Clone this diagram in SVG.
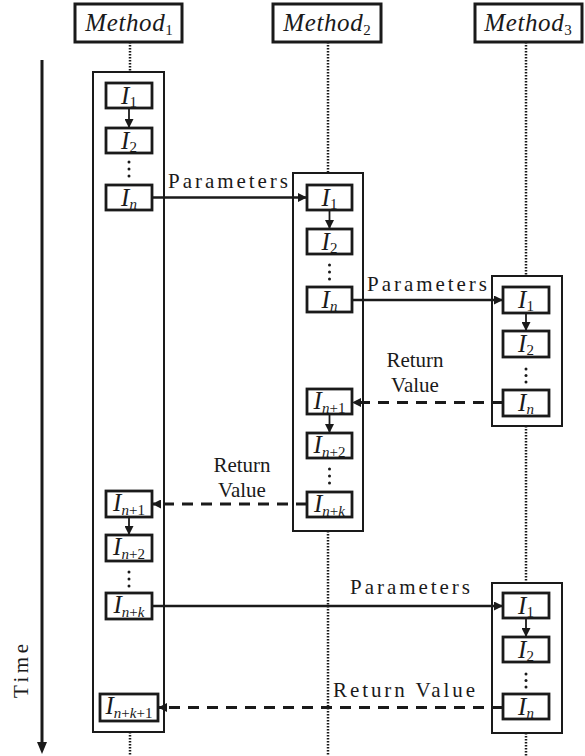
<svg xmlns="http://www.w3.org/2000/svg" width="585" height="756" viewBox="0 0 585 756">
<style>
.hdr{fill:#fff;stroke:#1a1a1a;stroke-width:3}
.act{fill:#fff;stroke:#1a1a1a;stroke-width:2}
.ib{fill:#fff;stroke:#1a1a1a;stroke-width:2.8}
.ht{font-family:"Liberation Serif","DejaVu Serif",serif;font-style:italic;font-size:25px;letter-spacing:0.6px;fill:#1a1a1a}
.it{font-family:"Liberation Serif","DejaVu Serif",serif;font-style:italic;font-size:25px;fill:#1a1a1a}
.sb{font-size:15px;font-style:normal;letter-spacing:0}
.si{font-style:italic}
.lbl{font-family:"Liberation Serif","DejaVu Serif",serif;font-size:21px;fill:#1a1a1a}
.life{stroke:#1a1a1a;stroke-width:2.5;stroke-dasharray:1.6 1.4;fill:none}
.msg{stroke:#1a1a1a;stroke-width:2.4;fill:none}
.ret{stroke:#1a1a1a;stroke-width:2.8;stroke-dasharray:11 8;fill:none}
.sm{stroke:#1a1a1a;stroke-width:1.8;fill:none}
.dot{fill:#1a1a1a}
</style>
<defs>
<marker id="ah" viewBox="0 0 10 10" refX="10" refY="5" markerWidth="11" markerHeight="9" markerUnits="userSpaceOnUse" orient="auto"><path d="M0,0 L10,5 L0,10 z" fill="#1a1a1a"/></marker>
<marker id="ahs" viewBox="0 0 10 10" refX="10" refY="5" markerWidth="9" markerHeight="9" markerUnits="userSpaceOnUse" orient="auto"><path d="M0,0 L10,5 L0,10 z" fill="#1a1a1a"/></marker>
</defs>

<!-- Headers -->
<g id="method1">
<rect class="hdr" x="75" y="4" width="107" height="38"/>
<text class="ht" x="129" y="31" text-anchor="middle">Method<tspan class="sb" dy="4">1</tspan></text>
</g>
<g id="method2">
<rect class="hdr" x="273" y="4" width="108" height="38"/>
<text class="ht" x="327" y="31" text-anchor="middle">Method<tspan class="sb" dy="4">2</tspan></text>
</g>
<g id="method3">
<rect class="hdr" x="475" y="4" width="107" height="38"/>
<text class="ht" x="528" y="31" text-anchor="middle">Method<tspan class="sb" dy="4">3</tspan></text>
</g>

<!-- Activation boxes -->
<g id="act1"><rect class="act" x="93" y="72" width="71" height="660"/></g>
<g id="act2"><rect class="act" x="293" y="173" width="70" height="358"/></g>
<g id="act3a"><rect class="act" x="492" y="276" width="70" height="150"/></g>
<g id="act3b"><rect class="act" x="492" y="583" width="70" height="150"/></g>

<!-- Method 1 instruction boxes -->
<g id="m1_i1"><rect class="ib" x="106" y="83" width="46" height="25"/><text class="it" x="129" y="104" text-anchor="middle">I<tspan class="sb" dy="3">1</tspan></text></g>
<g id="m1_i2"><rect class="ib" x="106" y="128" width="46" height="25"/><text class="it" x="129" y="149" text-anchor="middle">I<tspan class="sb" dy="3">2</tspan></text></g>
<g id="m1_dots1"><circle class="dot" cx="129" cy="162" r="1.5"/><circle class="dot" cx="129" cy="169" r="1.5"/><circle class="dot" cx="129" cy="176" r="1.5"/></g>
<g id="m1_in"><rect class="ib" x="106" y="185" width="46" height="25"/><text class="it" x="129" y="206" text-anchor="middle">I<tspan class="sb si" dy="3">n</tspan></text></g>
<g id="m1_in1"><rect class="ib" x="106" y="491" width="46" height="26"/><text class="it" x="129" y="511" text-anchor="middle">I<tspan class="sb" dy="4"><tspan class="si">n</tspan>+1</tspan></text></g>
<g id="m1_in2"><rect class="ib" x="106" y="535" width="46" height="26"/><text class="it" x="129" y="555" text-anchor="middle">I<tspan class="sb" dy="4"><tspan class="si">n</tspan>+2</tspan></text></g>
<g id="m1_dots2"><circle class="dot" cx="129" cy="572" r="1.5"/><circle class="dot" cx="129" cy="579" r="1.5"/><circle class="dot" cx="129" cy="586" r="1.5"/></g>
<g id="m1_ink"><rect class="ib" x="106" y="593" width="46" height="26"/><text class="it" x="129" y="613" text-anchor="middle">I<tspan class="sb" dy="4"><tspan class="si">n</tspan>+<tspan class="si">k</tspan></tspan></text></g>
<g id="m1_ink1"><rect class="ib" x="100" y="694" width="58" height="27"/><text class="it" x="129" y="714" text-anchor="middle">I<tspan class="sb" dy="4"><tspan class="si">n</tspan>+<tspan class="si">k</tspan>+1</tspan></text></g>

<!-- Method 2 instruction boxes -->
<g id="m2_i1"><rect class="ib" x="307" y="185" width="45" height="25"/><text class="it" x="329.5" y="206" text-anchor="middle">I<tspan class="sb" dy="3">1</tspan></text></g>
<g id="m2_i2"><rect class="ib" x="307" y="229" width="45" height="25"/><text class="it" x="329.5" y="250" text-anchor="middle">I<tspan class="sb" dy="3">2</tspan></text></g>
<g id="m2_dots1"><circle class="dot" cx="329.5" cy="265" r="1.5"/><circle class="dot" cx="329.5" cy="272" r="1.5"/><circle class="dot" cx="329.5" cy="279" r="1.5"/></g>
<g id="m2_in"><rect class="ib" x="307" y="287" width="45" height="25"/><text class="it" x="329.5" y="308" text-anchor="middle">I<tspan class="sb si" dy="3">n</tspan></text></g>
<g id="m2_in1"><rect class="ib" x="307" y="389" width="45" height="25"/><text class="it" x="329.5" y="409" text-anchor="middle">I<tspan class="sb" dy="4"><tspan class="si">n</tspan>+1</tspan></text></g>
<g id="m2_in2"><rect class="ib" x="307" y="433" width="45" height="25"/><text class="it" x="329.5" y="453" text-anchor="middle">I<tspan class="sb" dy="4"><tspan class="si">n</tspan>+2</tspan></text></g>
<g id="m2_dots2"><circle class="dot" cx="329.5" cy="469" r="1.5"/><circle class="dot" cx="329.5" cy="476" r="1.5"/><circle class="dot" cx="329.5" cy="483" r="1.5"/></g>
<g id="m2_ink"><rect class="ib" x="307" y="492" width="45" height="25"/><text class="it" x="329.5" y="512" text-anchor="middle">I<tspan class="sb" dy="4"><tspan class="si">n</tspan>+<tspan class="si">k</tspan></tspan></text></g>

<!-- Method 3 (first call) -->
<g id="m3a_i1"><rect class="ib" x="503" y="287" width="46" height="26"/><text class="it" x="526" y="308" text-anchor="middle">I<tspan class="sb" dy="3">1</tspan></text></g>
<g id="m3a_i2"><rect class="ib" x="503" y="331" width="46" height="26"/><text class="it" x="526" y="352" text-anchor="middle">I<tspan class="sb" dy="3">2</tspan></text></g>
<g id="m3a_dots"><circle class="dot" cx="526" cy="369" r="1.5"/><circle class="dot" cx="526" cy="375.5" r="1.5"/><circle class="dot" cx="526" cy="382" r="1.5"/></g>
<g id="m3a_in"><rect class="ib" x="503" y="390" width="46" height="26"/><text class="it" x="526" y="411" text-anchor="middle">I<tspan class="sb si" dy="3">n</tspan></text></g>

<!-- Method 3 (second call) -->
<g id="m3b_i1"><rect class="ib" x="503" y="593" width="46" height="25"/><text class="it" x="526" y="614" text-anchor="middle">I<tspan class="sb" dy="3">1</tspan></text></g>
<g id="m3b_i2"><rect class="ib" x="503" y="637" width="46" height="25"/><text class="it" x="526" y="658" text-anchor="middle">I<tspan class="sb" dy="3">2</tspan></text></g>
<g id="m3b_dots"><circle class="dot" cx="526" cy="674" r="1.5"/><circle class="dot" cx="526" cy="680.5" r="1.5"/><circle class="dot" cx="526" cy="687" r="1.5"/></g>
<g id="m3b_in"><rect class="ib" x="503" y="694" width="46" height="25"/><text class="it" x="526" y="715" text-anchor="middle">I<tspan class="sb si" dy="3">n</tspan></text></g>

<!-- Connectors -->
<g id="connectors">
<line class="life" x1="130" y1="42" x2="130" y2="72"/>
<line class="life" x1="130" y1="732" x2="130" y2="756"/>
<line class="life" x1="328" y1="42" x2="328" y2="173"/>
<line class="life" x1="328" y1="531" x2="328" y2="756"/>
<line class="life" x1="526" y1="42" x2="526" y2="276"/>
<line class="life" x1="526" y1="426" x2="526" y2="583"/>
<line class="life" x1="526" y1="733" x2="526" y2="756"/>

<line class="sm" x1="129" y1="108" x2="129" y2="128" marker-end="url(#ahs)"/>
<line class="sm" x1="129" y1="517" x2="129" y2="535" marker-end="url(#ahs)"/>
<line class="sm" x1="329.5" y1="210" x2="329.5" y2="229" marker-end="url(#ahs)"/>
<line class="sm" x1="329.5" y1="414" x2="329.5" y2="433" marker-end="url(#ahs)"/>
<line class="sm" x1="526" y1="313" x2="526" y2="331" marker-end="url(#ahs)"/>
<line class="sm" x1="526" y1="618" x2="526" y2="637" marker-end="url(#ahs)"/>

<line class="msg" x1="152" y1="197.5" x2="307" y2="197.5" marker-end="url(#ah)"/>
<text class="lbl" x="168" y="188" textLength="120">Parameters</text>
<line class="msg" x1="352" y1="300" x2="503" y2="300" marker-end="url(#ah)"/>
<text class="lbl" x="367" y="291" textLength="120">Parameters</text>
<line class="ret" x1="503" y1="402.5" x2="352" y2="402.5" marker-end="url(#ah)"/>
<text class="lbl" x="415" y="367" text-anchor="middle">Return</text>
<text class="lbl" x="415" y="392" text-anchor="middle">Value</text>
<line class="ret" x1="307" y1="504" x2="152" y2="504" marker-end="url(#ah)"/>
<text class="lbl" x="242" y="472" text-anchor="middle">Return</text>
<text class="lbl" x="242" y="497" text-anchor="middle">Value</text>
<line class="msg" x1="152" y1="606" x2="503" y2="606" marker-end="url(#ah)"/>
<text class="lbl" x="350" y="594" textLength="120">Parameters</text>
<line class="ret" x1="503" y1="707.5" x2="158" y2="707.5" marker-end="url(#ah)"/>
<text class="lbl" x="333" y="697" textLength="142">Return Value</text>
</g>

<!-- Time axis -->
<g id="time">
<line x1="42" y1="60" x2="42" y2="744" stroke="#1a1a1a" stroke-width="3"/>
<path d="M37,742 L42,754 L47,742 z" fill="#1a1a1a"/>
<text class="lbl" transform="translate(28,671) rotate(-90)" text-anchor="middle" textLength="54">Time</text>
</g>
</svg>
